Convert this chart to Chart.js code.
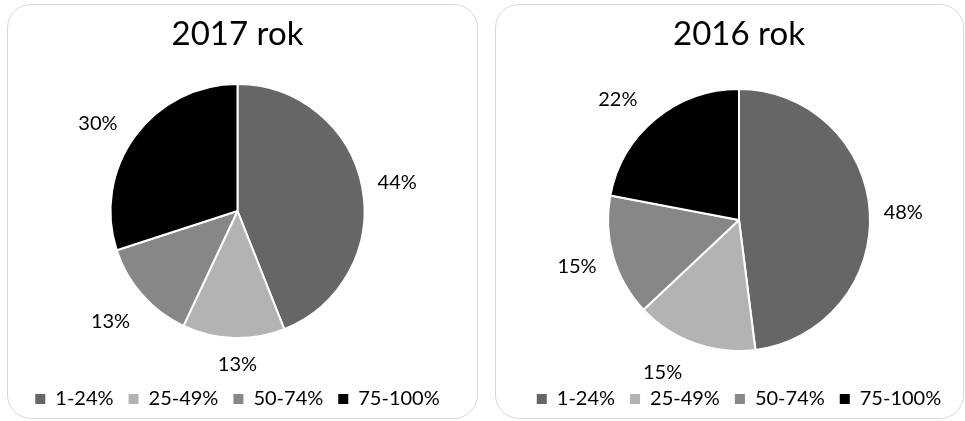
<!DOCTYPE html>
<html>
<head>
<meta charset="utf-8">
<script src="https://cdn.jsdelivr.net/npm/chart.js@4.4.1/dist/chart.umd.min.js"></script>
<style>
  html, body { margin: 0; padding: 0; background: #fff; }
  body { width: 965px; height: 421px; position: relative; overflow: hidden; }
  canvas { position: absolute; }
  .ramka {
    position: absolute;
    box-sizing: border-box;
    border: 1.5px solid #d9d9d9;
    border-radius: 24px;
    pointer-events: none;
  }
</style>
</head>
<body>
<canvas id="wykres2017" width="471" height="415" style="left:7px;top:4px"></canvas>
<div class="ramka" style="left:7px;top:4px;width:471px;height:415px"></div>
<canvas id="wykres2016" width="469" height="415" style="left:495px;top:4px"></canvas>
<div class="ramka" style="left:495px;top:4px;width:469px;height:415px"></div>
<script>
const kategorie = ["1-24%", "25-49%", "50-74%", "75-100%"];
const udzialy2017 = [44, 13, 13, 30];
const udzialy2016 = [48, 15, 15, 22];

const kolory = ["#666666", "#b3b3b3", "#878787", "#000000"];
const czcionka = "Lato, 'Open Sans', sans-serif";

// etykiety procentowe na zewnątrz wycinków
const etykietyZewnetrzne = {
  id: "etykietyZewnetrzne",
  afterDatasetsDraw(chart, args, opcje) {
    const ctx = chart.ctx;
    const meta = chart.getDatasetMeta(0);
    const dane = chart.data.datasets[0].data;
    const przesun = opcje.przesuniecia || [];
    ctx.save();
    ctx.font = "20px " + czcionka;
    ctx.fillStyle = "#000";
    ctx.textAlign = "center";
    ctx.textBaseline = "middle";
    meta.data.forEach((luk, i) => {
      const { x, y, startAngle, endAngle, outerRadius } = luk.getProps(
        ["x", "y", "startAngle", "endAngle", "outerRadius"], true);
      const kat = (startAngle + endAngle) / 2;
      const dx = Math.cos(kat), dy = Math.sin(kat);
      const tekst = dane[i] + "%";
      const w = ctx.measureText(tekst).width;
      const h = 18;
      const odl = outerRadius + 16;
      // drobne przesunięcie etykiety, żeby nie wchodziła na sąsiednie
      const [sx, sy] = przesun[i] || [0, 0];
      ctx.fillText(tekst, x + dx * (odl + w / 2) + sx, y + dy * (odl + h / 2) + sy);
    });
    ctx.restore();
  }
};

function rysujKolo(id, tytul, wartosci, promien, tytulDol, padLewy, padPrawy, przesuniecia) {
  return new Chart(document.getElementById(id), {
    type: "pie",
    data: {
      labels: kategorie,
      datasets: [{
        data: wartosci,
        backgroundColor: kolory,
        borderColor: "#ffffff",
        borderWidth: 2,
      }],
    },
    options: {
      responsive: false,
      animation: false,
      radius: promien,
      layout: { padding: { left: padLewy, right: padPrawy, top: 0, bottom: 0 } },
      plugins: {
        tooltip: { enabled: false },
        etykietyZewnetrzne: { przesuniecia },
        title: {
          display: true,
          text: tytul,
          color: "#000",
          font: { family: czcionka, size: 33, weight: "normal", lineHeight: "10px" },
          padding: { top: 25, bottom: tytulDol },
        },
        legend: {
          position: "bottom",
          labels: {
            color: "#000",
            font: { family: czcionka, size: 20 },
            boxWidth: 10,
            boxHeight: 10,
            padding: 15,
            generateLabels(chart) {
              return chart.data.labels.map((tekst, i) => ({
                text: tekst,
                fillStyle: kolory[i],
                strokeStyle: kolory[i],
                lineWidth: 0,
                hidden: false,
                index: i,
              }));
            },
          },
        },
      },
    },
    plugins: [etykietyZewnetrzne],
  });
}

rysujKolo("wykres2017", "2017 rok", udzialy2017, 127, 9, 0, 10,
  [[0, 0], [5, 2], [-5, 10], [-8, 2]]);
rysujKolo("wykres2016", "2016 rok", udzialy2016, 131, 27, 19, 0,
  [[-2, 2], [-20, 6], [-2, 3], [-15, 0]]);
</script>
</body>
</html>
